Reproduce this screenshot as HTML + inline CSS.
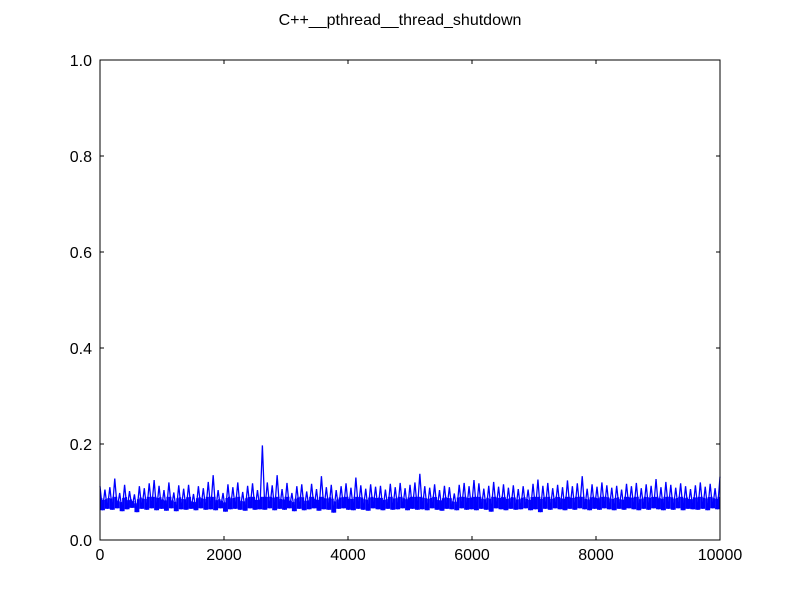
<!DOCTYPE html>
<html><head><meta charset="utf-8"><style>
body{margin:0;background:#fff;}
svg{display:block;font-family:"Liberation Sans","DejaVu Sans",sans-serif;}
</style></head><body>
<svg id="chart" width="800" height="600">
<rect x="0" y="0" width="800" height="600" fill="#fff"/>
<text x="400" y="25" text-anchor="middle" font-size="16">C++__pthread__thread_shutdown</text>
<g id="plot"></g>
</svg>
<script>
const xTicks=[0,2000,4000,6000,8000,10000];
const yTicks=[0.0,0.2,0.4,0.6,0.8,1.0];
const yTickLabels=["0.0","0.2","0.4","0.6","0.8","1.0"];
const values=[0.112,0.062,0.105,0.065,0.11,0.063,0.128,0.066,0.098,0.06,0.115,0.064,0.102,0.067,0.095,0.058,0.112,0.065,0.108,0.063,0.118,0.066,0.125,0.062,0.113,0.065,0.104,0.061,0.12,0.066,0.099,0.06,0.114,0.064,0.107,0.063,0.115,0.065,0.096,0.062,0.112,0.066,0.108,0.063,0.121,0.064,0.135,0.062,0.104,0.066,0.098,0.059,0.116,0.064,0.11,0.065,0.12,0.063,0.1,0.061,0.113,0.066,0.118,0.063,0.104,0.064,0.197,0.063,0.12,0.066,0.114,0.062,0.135,0.065,0.106,0.063,0.119,0.066,0.098,0.06,0.112,0.065,0.116,0.062,0.101,0.064,0.117,0.066,0.106,0.061,0.133,0.064,0.11,0.063,0.115,0.057,0.104,0.065,0.112,0.066,0.118,0.063,0.109,0.062,0.13,0.065,0.114,0.063,0.107,0.061,0.116,0.066,0.111,0.064,0.113,0.062,0.105,0.065,0.117,0.063,0.11,0.064,0.119,0.066,0.108,0.062,0.115,0.065,0.12,0.063,0.138,0.064,0.112,0.062,0.109,0.066,0.116,0.063,0.104,0.061,0.113,0.065,0.11,0.064,0.097,0.062,0.115,0.066,0.119,0.063,0.112,0.064,0.125,0.062,0.118,0.065,0.107,0.063,0.113,0.059,0.121,0.066,0.111,0.064,0.116,0.062,0.109,0.065,0.114,0.063,0.106,0.064,0.112,0.066,0.105,0.062,0.117,0.064,0.126,0.058,0.113,0.065,0.119,0.063,0.108,0.066,0.115,0.064,0.11,0.062,0.124,0.065,0.112,0.063,0.118,0.066,0.133,0.064,0.107,0.062,0.116,0.065,0.111,0.063,0.12,0.066,0.114,0.064,0.109,0.062,0.113,0.065,0.105,0.063,0.117,0.066,0.112,0.064,0.119,0.062,0.108,0.065,0.116,0.063,0.113,0.066,0.127,0.064,0.11,0.062,0.121,0.065,0.115,0.063,0.109,0.066,0.118,0.062,0.112,0.065,0.106,0.064,0.114,0.063,0.12,0.065,0.111,0.062,0.117,0.066,0.108,0.064,0.132];
const xMax=10000;
const X0=100,X1=720,Y0=540,Y1=60;
const xs=v=>X0+(v-0)/(10000-0)*(X1-X0);
const ys=v=>Y0-(v-0)/(1-0)*(Y0-Y1);
const NS="http://www.w3.org/2000/svg";
const g=document.getElementById('plot');
function mk(t,a){const e=document.createElementNS(NS,t);for(const k in a)e.setAttribute(k,a[k]);g.appendChild(e);return e;}
const step=xMax/(values.length-1);
for(let i=0;i+1<values.length;i++){
  const a=values[i],b=values[i+1];
  const lo=Math.min(a,b),hi=Math.max(a,b);
  const mid=Math.min((lo+hi)/2,0.09);
  const r=mk('rect',{x:xs(i*step),y:ys(mid),width:Math.max(0.1,xs((i+1)*step)-xs(i*step)),height:Math.max(0,ys(lo)-ys(mid)),fill:"#0000ff"});
  
  
}
let d="";
values.forEach((v,i)=>{d+=(i?"L":"M")+xs(i*step).toFixed(2)+","+ys(v).toFixed(2);});
const line=mk('path',{d:d,fill:"none",stroke:"#0000ff","stroke-width":1.3});


xTicks.forEach(t=>{
  const x=xs(t);
  const a=mk('line',{x1:x,x2:x,y1:Y0,y2:Y0-4,stroke:"#000"});
  
  
  const b=mk('line',{x1:x,x2:x,y1:Y1,y2:Y1+4,stroke:"#000"});
  
  
  const l=mk('text',{x:x,y:Y0+20,"text-anchor":"middle","font-size":16});
  l.textContent=String(t);
  
  
});
yTicks.forEach((t,i)=>{
  const y=ys(t);
  const a=mk('line',{x1:X0,x2:X0+4,y1:y,y2:y,stroke:"#000"});
  
  
  const b=mk('line',{x1:X1,x2:X1-4,y1:y,y2:y,stroke:"#000"});
  
  
  const l=mk('text',{x:X0-8,y:y+6,"text-anchor":"end","font-size":16});
  l.textContent=yTickLabels[i];
  
  
});
const fr=mk('rect',{x:X0,y:Y1,width:X1-X0,height:Y0-Y1,fill:"none",stroke:"#000","stroke-width":1});


</script>
</body></html>
